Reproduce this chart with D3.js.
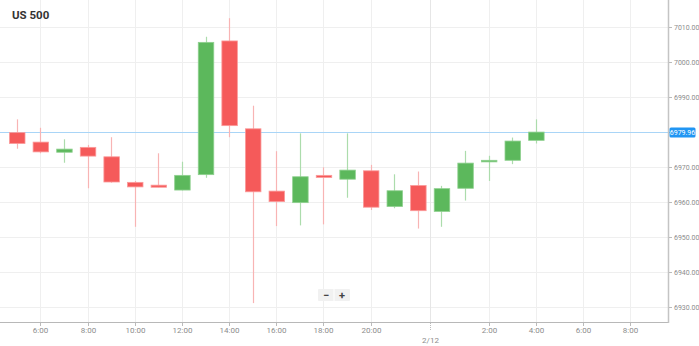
<!DOCTYPE html>
<html>
<head>
<meta charset="utf-8">
<script src="https://cdn.jsdelivr.net/npm/d3@7"></script>
<style>
  html, body { margin: 0; padding: 0; background: #fff; }
  svg { display: block; font-family: Roboto, "Open Sans", sans-serif; }
</style>
</head>
<body>
<svg id="chart" width="699" height="346"></svg>
<script>
// ---- data ----
const title = "US 500";
const times = ["5:00","6:00","7:00","8:00","9:00","10:00","11:00","12:00","13:00","14:00","15:00","16:00","17:00","18:00","19:00","20:00","21:00","22:00","0:00","1:00","2:00","3:00","4:00"];
const openVals  = [6979.8, 6977.1, 6974.2, 6975.6, 6972.9, 6965.6, 6964.8, 6963.4, 6967.8, 7006.0, 6980.9, 6963.1, 6959.8, 6967.6, 6966.5, 6968.9, 6958.7, 6964.7, 6957.3, 6963.9, 6971.5, 6971.9, 6977.6];
const highVals  = [6983.6, 6981.2, 6977.9, 6976.3, 6978.5, 6966.0, 6973.9, 6971.5, 7007.2, 7012.5, 6987.5, 6974.5, 6979.6, 6969.9, 6979.6, 6970.6, 6967.9, 6968.7, 6964.6, 6974.6, 6973.2, 6978.4, 6983.6];
const lowVals   = [6975.2, 6973.9, 6971.2, 6963.9, 6965.5, 6952.9, 6964.2, 6963.3, 6966.9, 6978.5, 6931.1, 6953.1, 6953.3, 6953.6, 6961.2, 6957.7, 6958.2, 6952.4, 6952.9, 6960.4, 6966.0, 6970.8, 6976.7];
const closeVals = [6976.7, 6974.3, 6975.1, 6973.1, 6965.7, 6964.3, 6964.2, 6967.6, 7005.6, 6981.8, 6962.9, 6960.1, 6967.2, 6967.0, 6969.1, 6958.5, 6963.2, 6957.5, 6963.8, 6971.1, 6971.9, 6977.4, 6979.96];
const currentPrice = 6979.96;
const dayBreakLabel = "2/12";
const xTickLabels = ["6:00","8:00","10:00","12:00","14:00","16:00","18:00","20:00","2/12","2:00","4:00","6:00","8:00"];
const yTickValues = [6930, 6940, 6950, 6960, 6970, 6980, 6990, 7000, 7010];

// ---- layout ----
const W = 699, H = 346;
const plotR = 668, plotB = 322;
const svg = d3.select("#chart");

const x = d3.scaleLinear().domain([-0.71, 27.6]).range([0, plotR]);
const y = d3.scaleLinear().domain([6925.7, 7017.7]).range([plotB, 0]);

// map tick labels to slot indices (sequential search, extrapolate past data)
function hourOf(lbl) { return +lbl.split(":")[0]; }
const tickPos = [];
let from = 0;
xTickLabels.forEach(lbl => {
  if (lbl === dayBreakLabel) {
    const i0 = times.indexOf("0:00", from);
    tickPos.push({label: lbl, i: i0 - 0.5, dayBreak: true});
    from = i0;
    return;
  }
  const i = times.indexOf(lbl, from);
  if (i >= 0) { tickPos.push({label: lbl, i}); from = i + 1; }
  else {
    const last = times.length - 1;
    let d = hourOf(lbl) - hourOf(times[last]);
    if (d <= 0) d += 24;
    tickPos.push({label: lbl, i: last + d});
  }
});

// grid
const grid = svg.append("g");
grid.selectAll("line.h").data(yTickValues.concat([7020])).enter().append("line")
  .attr("x1", 0).attr("x2", plotR)
  .attr("y1", d => Math.round(y(d)) + 0.5).attr("y2", d => Math.round(y(d)) + 0.5)
  .attr("stroke", "#efefef").attr("stroke-width", 1);
grid.selectAll("line.v").data(tickPos).enter().append("line")
  .attr("x1", d => Math.round(x(d.i)) + 0.5).attr("x2", d => Math.round(x(d.i)) + 0.5)
  .attr("y1", 0).attr("y2", plotB)
  .attr("stroke", d => d.dayBreak ? "#e6e6e6" : "#efefef").attr("stroke-width", 1);

// title
svg.append("text").attr("x", 12).attr("y", 19).text(title)
  .attr("font-size", 11.5).attr("font-weight", "bold").attr("fill", "#333");

// price line
svg.append("line").attr("x1", 0).attr("x2", plotR)
  .attr("y1", Math.round(y(currentPrice)) + 0.5).attr("y2", Math.round(y(currentPrice)) + 0.5)
  .attr("stroke", "#a9d5f7").attr("stroke-width", 1);

// candles
const data = times.map((t, i) => ({t, i, o: openVals[i], h: highVals[i], l: lowVals[i], c: closeVals[i]}));
const bw = 15.5;
const cg = svg.append("g");
cg.selectAll("line.wick").data(data).enter().append("line")
  .attr("x1", d => Math.round(x(d.i)) + 0.5).attr("x2", d => Math.round(x(d.i)) + 0.5)
  .attr("y1", d => y(d.h)).attr("y2", d => y(d.l))
  .attr("stroke", d => d.c >= d.o ? "#acdcac" : "#f8b4b4").attr("stroke-width", 1.2);
cg.selectAll("rect.body").data(data).enter().append("rect")
  .attr("x", d => x(d.i) - bw / 2 + 0.5)
  .attr("width", bw)
  .attr("y", d => y(Math.max(d.o, d.c)))
  .attr("height", d => Math.max(1.6, Math.abs(y(d.o) - y(d.c))))
  .attr("fill", d => d.c >= d.o ? "#5cb85c" : "#f55a5a")
  .attr("stroke", d => d.c >= d.o ? "#8fd08f" : "#fb9a9a")
  .attr("stroke-width", 0.8);

// axes frame
svg.append("line").attr("x1", 0).attr("x2", plotR + 1).attr("y1", plotB + 0.5).attr("y2", plotB + 0.5)
  .attr("stroke", "#b8b8b8").attr("stroke-width", 1.2);
svg.append("line").attr("x1", plotR + 0.5).attr("x2", plotR + 0.5).attr("y1", 0).attr("y2", plotB + 1)
  .attr("stroke", "#c4c4c4").attr("stroke-width", 1.5);

// x axis ticks & labels
const xa = svg.append("g");
tickPos.forEach(d => {
  const px = Math.round(x(d.i)) + 0.5;
  xa.append("line").attr("x1", px).attr("x2", px).attr("y1", plotB + 1).attr("y2", plotB + (d.dayBreak ? 9 : 4))
    .attr("stroke", "#bbb").attr("stroke-width", 1).attr("stroke-dasharray", d.dayBreak ? "1,1" : null);
  xa.append("text").attr("x", px).attr("y", d.dayBreak ? 343 : 333)
    .attr("text-anchor", "middle").attr("font-size", 8).attr("fill", "#8c8c8c").text(d.label);
});

// y axis ticks & labels (label hidden where the current-price tag sits)
const pricePy = Math.round(y(currentPrice));
const ya = svg.append("g");
yTickValues.forEach(v => {
  const py = Math.round(y(v)) + 0.5;
  ya.append("line").attr("x1", plotR + 1).attr("x2", plotR + 4).attr("y1", py).attr("y2", py)
    .attr("stroke", "#bbb");
  if (Math.abs(py - pricePy) > 8) {
    ya.append("text").attr("x", 674).attr("y", py + 2.5).attr("font-size", 7).attr("fill", "#8c8c8c")
      .text(d3.format(".2f")(v));
  }
});

// current price label
svg.append("rect").attr("x", 669.5).attr("y", pricePy - 4.5).attr("width", 26).attr("height", 10).attr("rx", 1.5)
  .attr("fill", "#2196f3");
svg.append("text").attr("x", 682.5).attr("y", pricePy + 2.8).attr("text-anchor", "middle")
  .attr("font-size", 7).attr("fill", "#fff").text(d3.format(".2f")(currentPrice));

// zoom buttons
const zb = svg.append("g");
zb.append("rect").attr("x", 318).attr("y", 289).attr("width", 32).attr("height", 12).attr("fill", "#f1f1f1").attr("rx", 1);
zb.append("line").attr("x1", 334).attr("x2", 334).attr("y1", 289).attr("y2", 301).attr("stroke", "#fff");
zb.append("text").attr("x", 326).attr("y", 298.5).attr("text-anchor", "middle").attr("font-size", 11)
  .attr("font-weight", "bold").attr("fill", "#444").text("−");
zb.append("text").attr("x", 342).attr("y", 299).attr("text-anchor", "middle").attr("font-size", 11)
  .attr("font-weight", "bold").attr("fill", "#444").text("+");
</script>
</body>
</html>
